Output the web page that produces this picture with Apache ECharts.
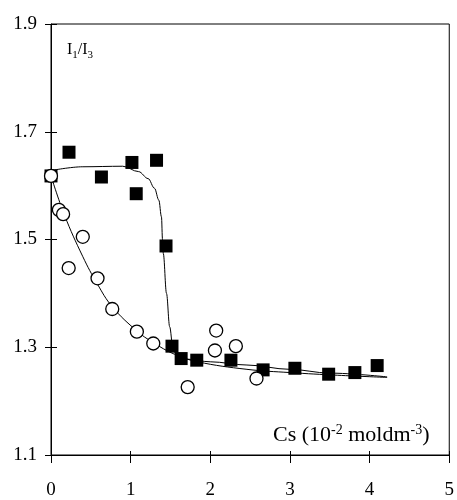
<!DOCTYPE html>
<html>
<head>
<meta charset="utf-8">
<script src="https://cdn.jsdelivr.net/npm/echarts@6/dist/echarts.min.js"></script>
<style>
html,body{margin:0;padding:0;background:#fff;}
#chart{width:457px;height:500px;}
</style>
</head>
<body>
<div id="chart"></div>
<script>
// Data
var squarePoints = [
  [0.00,1.618],[0.226,1.662],[0.633,1.616],[1.016,1.643],[1.07,1.585],[1.325,1.647],
  [1.444,1.488],[1.519,1.302],[1.634,1.279],[1.83,1.276],[2.259,1.276],[2.663,1.258],
  [3.062,1.261],[3.486,1.250],[3.815,1.253],[4.095,1.266]
];
var circlePoints = [
  [0.00,1.618],[0.099,1.555],[0.152,1.547],[0.222,1.447],[0.399,1.505],[0.584,1.428],
  [0.769,1.371],[1.078,1.329],[1.284,1.307],[1.716,1.226],[2.058,1.294],[2.074,1.331],
  [2.321,1.302],[2.58,1.242]
];
var squareCurve = [
  [0.00,1.628],[0.40,1.635],[0.90,1.636],[1.10,1.626],[1.22,1.613],[1.30,1.595],
  [1.354,1.573],[1.387,1.542],[1.40,1.500],[1.41,1.474],[1.45,1.400],[1.49,1.338],
  [1.53,1.300],[1.572,1.286],[1.70,1.278],[2.00,1.273],[2.46,1.267],[3.00,1.259],
  [3.50,1.252],[4.22,1.245]
];
var circleCurve = [
  [0.00,1.618],[0.17,1.545],[0.40,1.468],[0.58,1.418],[0.77,1.375],[1.08,1.330],
  [1.28,1.309],[1.55,1.287],[1.84,1.273],[2.46,1.259],[3.00,1.253],[3.60,1.248],[4.22,1.244]
];
var xTicks = [0,1,2,3,4,5];
var yTicks = [1.1,1.3,1.5,1.7,1.9];

var FONT = 'Liberation Serif';
var chart = echarts.init(document.getElementById('chart'));
var xBase = {type:'value', min:xTicks[0], max:xTicks[xTicks.length-1], interval:1,
  splitLine:{show:false}};
var yBase = {type:'value', min:yTicks[0], max:yTicks[yTicks.length-1], interval:0.2,
  splitLine:{show:false}};
chart.setOption({
  animation:false,
  backgroundColor:'#fff',
  grid:{left:51, top:24, right:1, bottom:45, show:true, borderColor:'#000', borderWidth:1},
  xAxis:[
    Object.assign({}, xBase, {position:'bottom',
      axisLine:{show:true, lineStyle:{color:'#000', width:1}},
      axisTick:{show:true, inside:false, length:8, lineStyle:{color:'#000'}},
      axisLabel:{show:true, color:'#000', fontFamily:FONT, fontSize:19, margin:26,
        showMaxLabel:true, formatter:function(v){return String(Math.round(v));}}}),
    Object.assign({}, xBase, {position:'bottom',
      axisLine:{show:false},
      axisTick:{show:true, inside:true, length:4, lineStyle:{color:'#000'}},
      axisLabel:{show:false}})
  ],
  yAxis:[
    Object.assign({}, yBase, {position:'left',
      axisLine:{show:true, lineStyle:{color:'#000', width:1}},
      axisTick:{show:true, inside:false, length:6, lineStyle:{color:'#000'}},
      axisLabel:{show:true, color:'#000', fontFamily:FONT, fontSize:19, margin:14,
        formatter:function(v){return v.toFixed(1);}}}),
    Object.assign({}, yBase, {position:'left',
      axisLine:{show:false},
      axisTick:{show:true, inside:true, length:6, lineStyle:{color:'#000'}},
      axisLabel:{show:false}})
  ],
  series:[
    {type:'line', data:squareCurve, smooth:0.35, smoothMonotone:'x', showSymbol:false,
      lineStyle:{color:'#000', width:1}, z:2},
    {type:'line', data:circleCurve, smooth:0.4, showSymbol:false,
      lineStyle:{color:'#000', width:1}, z:2},
    {type:'scatter', data:squarePoints, symbol:'rect', symbolSize:13,
      itemStyle:{color:'#000', opacity:1}, z:3},
    {type:'scatter', data:circlePoints, symbol:'circle', symbolSize:13,
      itemStyle:{color:'#fff', borderColor:'#000', borderWidth:1.3, opacity:1}, z:4}
  ],
  graphic:[
    {type:'text', left:67, top:42, style:{
      text:'{i|I}{s|1}{i|/I}{s|3}',
      rich:{
        i:{fontFamily:FONT, fontSize:16, fill:'#000', verticalAlign:'bottom'},
        s:{fontFamily:FONT, fontSize:11, fill:'#000', verticalAlign:'bottom', padding:[0,0,-3,0]}
      }}},
    {type:'text', left:273, top:423, style:{
      text:'{n|Cs (10}{p|-2}{n| moldm}{p|-3}{n|)}',
      rich:{
        n:{fontFamily:FONT, fontSize:22, fill:'#000', verticalAlign:'bottom'},
        p:{fontFamily:FONT, fontSize:14, fill:'#000', verticalAlign:'bottom', padding:[0,0,9,0]}
      }}}
  ]
});
</script>
</body>
</html>
